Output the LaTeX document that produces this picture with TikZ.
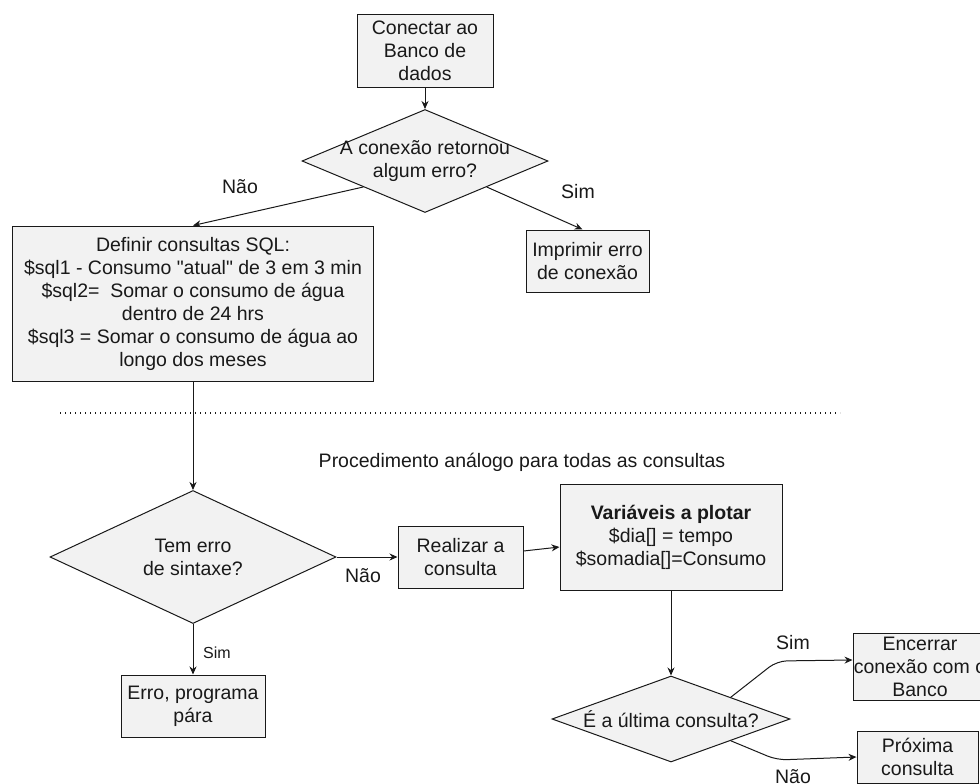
\documentclass[tikz,border=0pt]{standalone}
\usepackage{fontspec}
\setmainfont{Liberation Sans}[Ligatures=TeXOff]
\usetikzlibrary{shapes.geometric,arrows.meta,calc}
\definecolor{boxfill}{RGB}{242,242,242}
\definecolor{ink}{RGB}{25,25,25}
\begin{document}
\begin{tikzpicture}[x=1pt,y=-1pt,
  every node/.style={font=\fontsize{19.5}{23}\selectfont, text=ink},
  proc/.style={draw=ink, line width=1pt, fill=boxfill, rectangle, inner sep=0pt, align=center},
  dec/.style={draw=ink, line width=1pt, fill=boxfill, diamond, inner sep=0pt},
  conn/.style={draw=ink, line width=1pt},
  arr/.style={conn, -{Stealth[length=8pt,width=7pt]}},
  dotline/.style={draw=ink, line width=1.2pt, dash pattern=on 1.2pt off 3.8pt},
  small/.style={font=\fontsize{16}{19}\selectfont},
]
\useasboundingbox (0,0) rectangle (980,784);
\clip (0,0) rectangle (980,784);

% nodes
\node[proc, minimum width=136pt, minimum height=72pt] (con) at (425,51) {Conectar ao\\Banco de\\dados};
\node[dec, minimum width=246pt, minimum height=103pt,
      label={[align=center, inner sep=0pt]center:A conexão retornou\\algum erro?}] (d1) at (425,161) {};
\node[proc, minimum width=361pt, minimum height=155pt] (def) at (193,303.5)
  {Definir consultas SQL:\\\$sql1 - Consumo "atual" de 3 em 3 min\\\$sql2=\ \ Somar o consumo de água\\dentro de 24 hrs\\\$sql3 = Somar o consumo de água ao\\longo dos meses};
\node[proc, minimum width=123pt, minimum height=62pt] (imp) at (587.5,261) {Imprimir erro\\de conexão};

\coordinate (dl) at (60,413);
\coordinate (dr) at (840,413);
\node (proc) at (522,462) {Procedimento análogo para todas as consultas};

\node[dec, minimum width=286pt, minimum height=133pt,
      label={[align=center, inner sep=0pt]center:Tem erro\\de sintaxe?}] (d2) at (193,557) {};
\node[proc, minimum width=144pt, minimum height=62pt] (erro) at (193,706) {Erro, programa\\pára};
\node[proc, minimum width=125pt, minimum height=62pt] (real) at (460.5,557) {Realizar a\\consulta};
\node[proc, minimum width=222pt, minimum height=106pt] (var) at (671,537)
  {\bfseries Variáveis a plotar\\\$dia[] = tempo\\\$somadia[]=Consumo};
\node[dec, minimum width=238pt, minimum height=86pt,
      label={[inner sep=0pt]center:É a última consulta?}] (d3) at (671,719) {};
\node[proc, minimum width=134pt, minimum height=67pt] (enc) at (920,667) {Encerrar\\conexão com o\\Banco};
\node[proc, minimum width=121pt, minimum height=52pt] (prox) at (917.5,757) {Próxima\\consulta};

% labels
\node (lnao1) at (240,187) {Não};
\node (lsim1) at (578,192) {Sim};
\node (lnao2) at (363,576) {Não};
\node[small] (lsim2) at (217,653) {Sim};
\node (lsim3) at (793,643) {Sim};
\node (lnao3) at (793,777) {Não};

% connectors
\draw[arr] (con) -- (d1);
\draw[arr] ($(d1.west)!0.5!(d1.south)$) -- (def.north);
\draw[arr] ($(d1.east)!0.5!(d1.south)$) -- ([xshift=-5pt]imp.north);
\draw[dotline] (dl) -- (dr);
\draw[arr] (def.south) -- (d2.north);
\draw[arr] (d2.east) -- (real.west);
\draw[arr] (d2.south) -- (erro.north);
\draw[arr] ([yshift=6pt]real.east) -- ([yshift=-10pt]var.west);
\draw[arr] (var.south) -- (d3.north);
\coordinate (bs) at (777,661);
\coordinate (bn) at (777,760);
\draw[arr, rounded corners=10pt] ($(d3.north)!0.5!(d3.east)$) -- (bs) -- ([yshift=7pt]enc.west);
\draw[arr, rounded corners=10pt] ($(d3.south)!0.5!(d3.east)$) -- (bn) -- (prox.west);
\end{tikzpicture}
\end{document}
